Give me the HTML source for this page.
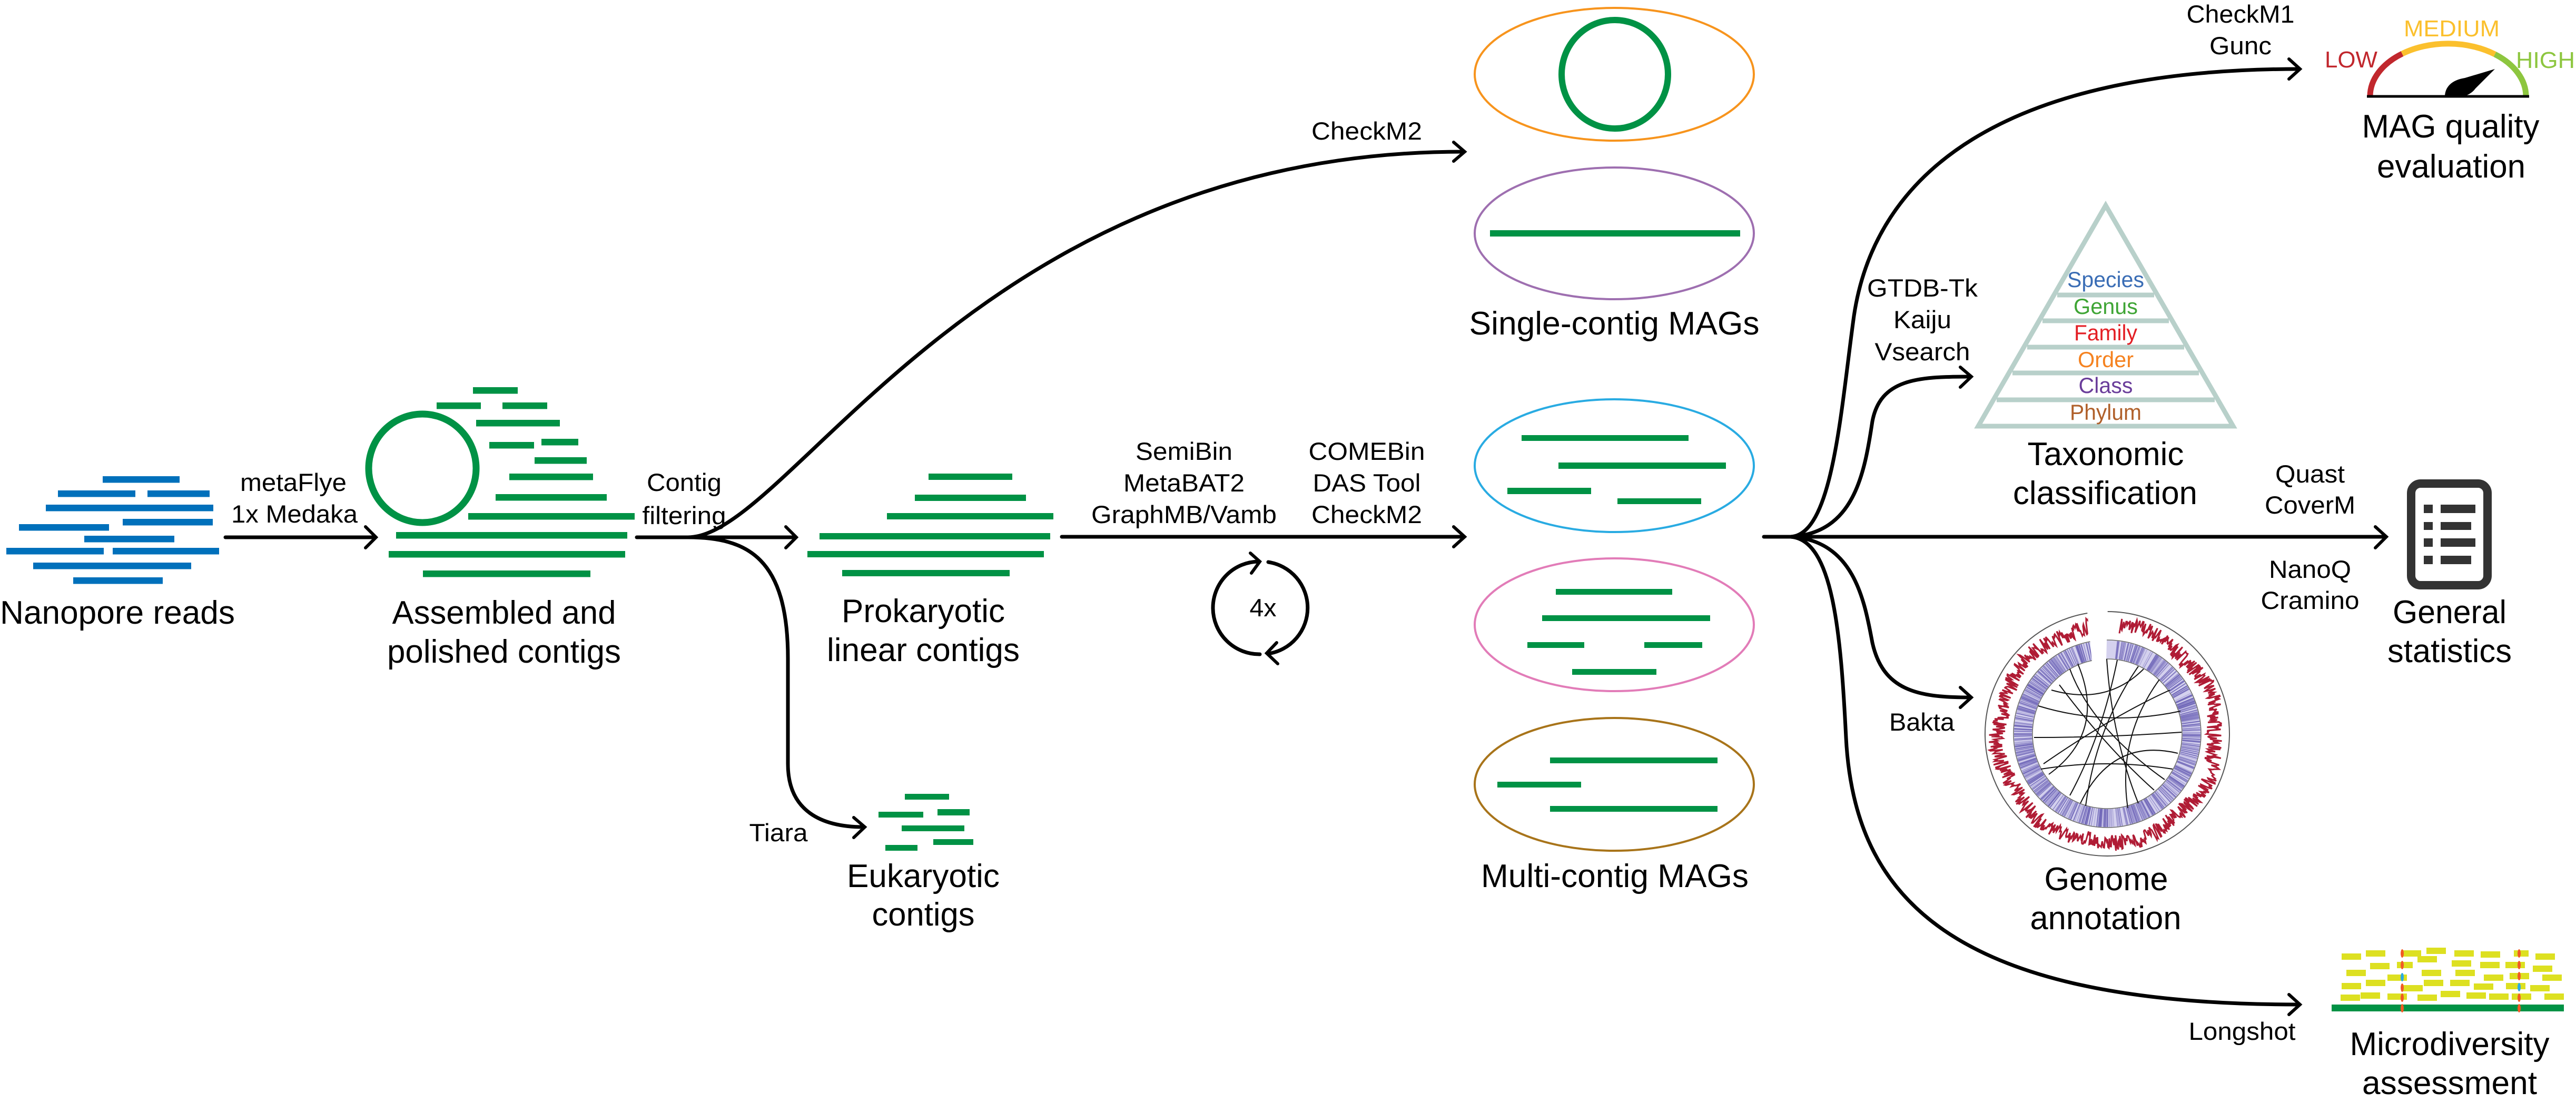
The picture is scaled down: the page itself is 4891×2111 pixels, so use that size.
<!DOCTYPE html>
<html><head><meta charset="utf-8"><style>html,body{margin:0;padding:0;background:#fff}svg{display:block}</style></head><body>
<svg id="s" xmlns="http://www.w3.org/2000/svg" width="4891" height="2111" viewBox="0 0 4891 2111" font-family="Liberation Sans, Arial, sans-serif">
<rect width="4891" height="2111" fill="#fff"/>
<defs>
<style>
.big{font-size:62px;fill:#000}
.sm{font-size:47px;fill:#000}
.tx{font-size:42px}
.ln{fill:none;stroke:#000;stroke-width:7;stroke-linecap:round}
.ah{fill:none;stroke:#000;stroke-width:6;stroke-linecap:round;stroke-linejoin:miter}
</style>
</defs>

<!-- Nanopore reads -->
<g fill="#0070bb">
<rect x="195" y="904" width="146" height="12.5"/>
<rect x="110" y="931" width="147" height="12.5"/><rect x="280" y="931" width="118" height="12.5"/>
<rect x="87" y="958" width="318" height="12.5"/>
<rect x="233" y="985" width="171" height="12.5"/><rect x="36" y="995" width="171" height="12.5"/>
<rect x="160" y="1017" width="171" height="12.5"/>
<rect x="12" y="1040" width="185" height="12.5"/><rect x="214" y="1040" width="202" height="12.5"/>
<rect x="63" y="1068" width="300" height="12.5"/>
<rect x="139" y="1096" width="170" height="12.5"/>
</g>
<text class="big" x="223" y="1184" text-anchor="middle" textLength="446" lengthAdjust="spacingAndGlyphs">Nanopore reads</text>

<line class="ln" x1="428" y1="1020" x2="712" y2="1020"/>
<polyline class="ah" points="694,1000 714,1020 694,1040"/>
<text class="sm" x="557" y="932" text-anchor="middle" textLength="202" lengthAdjust="spacingAndGlyphs">metaFlye</text>
<text class="sm" x="559" y="992" text-anchor="middle" textLength="240" lengthAdjust="spacingAndGlyphs">1x Medaka</text>

<ellipse cx="802" cy="889" rx="102" ry="103" fill="none" stroke="#009245" stroke-width="13"/>
<g fill="#009245">
<rect x="898" y="735" width="85" height="12.5"/>
<rect x="829" y="764" width="84" height="12.5"/><rect x="954" y="764" width="85" height="12.5"/>
<rect x="904" y="797" width="159" height="12.5"/>
<rect x="929" y="839" width="85" height="12.5"/><rect x="1028" y="833" width="70" height="12.5"/>
<rect x="1015" y="868" width="99" height="12.5"/>
<rect x="967" y="899" width="159" height="12.5"/>
<rect x="941" y="938" width="211" height="12.5"/>
<rect x="889" y="974" width="316" height="12.5"/>
<rect x="752" y="1010" width="439" height="12.5"/>
<rect x="738" y="1046" width="449" height="12.5"/>
<rect x="803" y="1083" width="318" height="12.5"/>
</g>
<text class="big" x="957" y="1184" text-anchor="middle" textLength="425" lengthAdjust="spacingAndGlyphs">Assembled and</text>
<text class="big" x="957" y="1258" text-anchor="middle" textLength="444" lengthAdjust="spacingAndGlyphs">polished contigs</text>

<text class="sm" x="1299" y="932" text-anchor="middle" textLength="142" lengthAdjust="spacingAndGlyphs">Contig</text>
<text class="sm" x="1299" y="995" text-anchor="middle" textLength="159" lengthAdjust="spacingAndGlyphs">filtering</text>
<line class="ln" x1="1209" y1="1020" x2="1510" y2="1020"/>
<polyline class="ah" points="1492,1000 1512,1020 1492,1040"/>
<path class="ln" d="M1306 1020 C1500 1020 1850 288 2778 288"/>
<polyline class="ah" points="2760,270 2781,288 2760,306"/>
<text class="sm" x="2595" y="265" text-anchor="middle" textLength="210" lengthAdjust="spacingAndGlyphs">CheckM2</text>
<path class="ln" d="M1306 1020 C1420 1020 1496 1060 1496 1250 L1496 1450 C1496 1540 1560 1570 1640 1570"/>
<polyline class="ah" points="1621,1552 1642,1570 1621,1590"/>
<text class="sm" x="1478" y="1597" text-anchor="middle" textLength="111" lengthAdjust="spacingAndGlyphs">Tiara</text>

<g fill="#009245">
<rect x="1763" y="899" width="159" height="12"/>
<rect x="1737" y="939" width="211" height="12"/>
<rect x="1684" y="974" width="316" height="12"/>
<rect x="1556" y="1012" width="438" height="12"/>
<rect x="1533" y="1046" width="449" height="12"/>
<rect x="1599" y="1082" width="318" height="12"/>
</g>
<text class="big" x="1753" y="1181" text-anchor="middle" textLength="310" lengthAdjust="spacingAndGlyphs">Prokaryotic</text>
<text class="big" x="1753" y="1255" text-anchor="middle" textLength="366" lengthAdjust="spacingAndGlyphs">linear contigs</text>

<g fill="#009245">
<rect x="1718" y="1507" width="84" height="11"/>
<rect x="1668" y="1541" width="85" height="11"/><rect x="1780" y="1536" width="61" height="12"/>
<rect x="1712" y="1567" width="119" height="11"/>
<rect x="1681" y="1604" width="61" height="11"/><rect x="1772" y="1593" width="76" height="11"/>
</g>
<text class="big" x="1753" y="1684" text-anchor="middle" textLength="290" lengthAdjust="spacingAndGlyphs">Eukaryotic</text>
<text class="big" x="1753" y="1757" text-anchor="middle" textLength="195" lengthAdjust="spacingAndGlyphs">contigs</text>

<line class="ln" x1="2016" y1="1019" x2="2778" y2="1019"/>
<polyline class="ah" points="2760,1000 2781,1019 2760,1038"/>
<text class="sm" x="2248" y="873" text-anchor="middle" textLength="184" lengthAdjust="spacingAndGlyphs">SemiBin</text>
<text class="sm" x="2248" y="933" text-anchor="middle" textLength="230" lengthAdjust="spacingAndGlyphs">MetaBAT2</text>
<text class="sm" x="2248" y="993" text-anchor="middle" textLength="352" lengthAdjust="spacingAndGlyphs">GraphMB/Vamb</text>
<text class="sm" x="2595" y="873" text-anchor="middle" textLength="221" lengthAdjust="spacingAndGlyphs">COMEBin</text>
<text class="sm" x="2595" y="933" text-anchor="middle" textLength="205" lengthAdjust="spacingAndGlyphs">DAS Tool</text>
<text class="sm" x="2595" y="993" text-anchor="middle" textLength="210" lengthAdjust="spacingAndGlyphs">CheckM2</text>

<path class="ln" d="M2390 1066 A88 88 0 0 0 2392 1242"/>
<path class="ln" d="M2408 1067 A88 88 0 0 1 2408 1241"/>
<polyline class="ah" points="2374,1050 2392,1066 2376,1088"/>
<polyline class="ah" points="2424,1220 2405,1240 2426,1260"/>
<text class="sm" x="2398" y="1170" text-anchor="middle" textLength="51" lengthAdjust="spacingAndGlyphs">4x</text>

<g fill="none" stroke-width="4">
<ellipse cx="3065" cy="141" rx="265" ry="126" stroke="#f7941d"/>
<ellipse cx="3065" cy="443" rx="265" ry="125" stroke="#9e6fb0"/>
<ellipse cx="3065" cy="884" rx="265" ry="126" stroke="#29abe2"/>
<ellipse cx="3065" cy="1186" rx="265" ry="126" stroke="#e27cb8"/>
<ellipse cx="3065" cy="1489" rx="265" ry="126" stroke="#a8741a"/>
</g>
<ellipse cx="3066" cy="141" rx="101" ry="103" fill="none" stroke="#009245" stroke-width="12"/>
<g fill="#009245">
<rect x="2829" y="437" width="475" height="12"/>
<rect x="2889" y="826" width="317" height="11"/>
<rect x="2959" y="878" width="318" height="12"/>
<rect x="2862" y="926" width="159" height="12"/>
<rect x="3071" y="946" width="159" height="11"/>
<rect x="2954" y="1118" width="221" height="11"/>
<rect x="2928" y="1168" width="319" height="11"/>
<rect x="2900" y="1219" width="108" height="11"/><rect x="3122" y="1219" width="110" height="11"/>
<rect x="2985" y="1270" width="160" height="11"/>
<rect x="2943" y="1438" width="318" height="11"/>
<rect x="2843" y="1484" width="159" height="11"/>
<rect x="2943" y="1530" width="318" height="11"/>
</g>
<text class="big" x="3065" y="635" text-anchor="middle" textLength="551" lengthAdjust="spacingAndGlyphs">Single-contig MAGs</text>
<text class="big" x="3066" y="1684" text-anchor="middle" textLength="508" lengthAdjust="spacingAndGlyphs">Multi-contig MAGs</text>

<line class="ln" x1="3349" y1="1019" x2="4528" y2="1019"/>
<polyline class="ah" points="4510,1000 4531,1019 4510,1040"/>
<path class="ln" d="M3400 1019 C3480 1015 3495 780 3520 600 C3560 330 3800 131 4364 131"/>
<polyline class="ah" points="4346,112 4367,131 4346,150"/>
<path class="ln" d="M3400 1019 C3520 1012 3540 900 3555 800 C3570 720 3640 715 3738 715"/>
<polyline class="ah" points="3722,697 3743,715 3722,735"/>
<path class="ln" d="M3400 1019 C3520 1026 3540 1140 3555 1220 C3575 1310 3640 1324 3738 1324"/>
<polyline class="ah" points="3722,1305 3743,1324 3722,1343"/>
<path class="ln" d="M3400 1019 C3480 1025 3495 1200 3505 1400 C3520 1700 3700 1907 4363 1907"/>
<polyline class="ah" points="4346,1888 4367,1907 4346,1926"/>

<text class="sm" x="4254" y="43" text-anchor="middle" textLength="205" lengthAdjust="spacingAndGlyphs">CheckM1</text>
<text class="sm" x="4254" y="103" text-anchor="middle" textLength="118" lengthAdjust="spacingAndGlyphs">Gunc</text>
<text class="sm" x="3650" y="563" text-anchor="middle" textLength="210" lengthAdjust="spacingAndGlyphs">GTDB-Tk</text>
<text class="sm" x="3650" y="623" text-anchor="middle" textLength="110" lengthAdjust="spacingAndGlyphs">Kaiju</text>
<text class="sm" x="3650" y="684" text-anchor="middle" textLength="181" lengthAdjust="spacingAndGlyphs">Vsearch</text>
<text class="sm" x="4386" y="916" text-anchor="middle" textLength="132" lengthAdjust="spacingAndGlyphs">Quast</text>
<text class="sm" x="4386" y="975" text-anchor="middle" textLength="172" lengthAdjust="spacingAndGlyphs">CoverM</text>
<text class="sm" x="4386" y="1097" text-anchor="middle" textLength="156" lengthAdjust="spacingAndGlyphs">NanoQ</text>
<text class="sm" x="4386" y="1156" text-anchor="middle" textLength="187" lengthAdjust="spacingAndGlyphs">Cramino</text>
<text class="sm" x="3649" y="1387" text-anchor="middle" textLength="124" lengthAdjust="spacingAndGlyphs">Bakta</text>
<text class="sm" x="4257" y="1974" text-anchor="middle" textLength="203" lengthAdjust="spacingAndGlyphs">Longshot</text>

<g fill="none" stroke-width="11">
<path d="M4500 183 A148 100 0 0 1 4561 102" stroke="#c1272d"/>
<path d="M4561 102 A148 100 0 0 1 4737 103" stroke="#fbc02d"/>
<path d="M4737 103 A148 100 0 0 1 4796 183" stroke="#8dc63f"/>
</g>
<line x1="4494" y1="183" x2="4802" y2="183" stroke="#000" stroke-width="5"/>
<path d="M4642 184 C4642 165 4655 152 4680 148 L4737 131 L4700 168 C4690 182 4670 188 4642 184 Z" fill="#000"/>
<text x="4464" y="128" font-size="44" fill="#c1272d" text-anchor="middle" textLength="100" lengthAdjust="spacingAndGlyphs">LOW</text>
<text x="4655" y="69" font-size="44" fill="#fbc02d" text-anchor="middle" textLength="182" lengthAdjust="spacingAndGlyphs">MEDIUM</text>
<text x="4833" y="129" font-size="44" fill="#8dc63f" text-anchor="middle" textLength="112" lengthAdjust="spacingAndGlyphs">HIGH</text>
<text class="big" x="4653" y="261" text-anchor="middle" textLength="337" lengthAdjust="spacingAndGlyphs">MAG quality</text>
<text class="big" x="4654" y="337" text-anchor="middle" textLength="282" lengthAdjust="spacingAndGlyphs">evaluation</text>

<g stroke="#b8d0ca" stroke-width="9" fill="none">
<polygon points="3998,390 4240,809 3756,809"/>
<line x1="3906" y1="560" x2="4090" y2="560"/>
<line x1="3878" y1="609" x2="4118" y2="609"/>
<line x1="3849" y1="659" x2="4147" y2="659"/>
<line x1="3821" y1="708" x2="4175" y2="708"/>
<line x1="3791" y1="759" x2="4205" y2="759"/>
</g>
<text class="tx" x="3998" y="545" fill="#3a6db5" text-anchor="middle" textLength="146" lengthAdjust="spacingAndGlyphs">Species</text>
<text class="tx" x="3998" y="596" fill="#3fa535" text-anchor="middle" textLength="122" lengthAdjust="spacingAndGlyphs">Genus</text>
<text class="tx" x="3998" y="646" fill="#e31e24" text-anchor="middle" textLength="120" lengthAdjust="spacingAndGlyphs">Family</text>
<text class="tx" x="3998" y="697" fill="#f58220" text-anchor="middle" textLength="106" lengthAdjust="spacingAndGlyphs">Order</text>
<text class="tx" x="3998" y="746" fill="#6a3d9a" text-anchor="middle" textLength="103" lengthAdjust="spacingAndGlyphs">Class</text>
<text class="tx" x="3998" y="797" fill="#b0602a" text-anchor="middle" textLength="136" lengthAdjust="spacingAndGlyphs">Phylum</text>
<text class="big" x="3998" y="883" text-anchor="middle" textLength="297" lengthAdjust="spacingAndGlyphs">Taxonomic</text>
<text class="big" x="3997" y="957" text-anchor="middle" textLength="350" lengthAdjust="spacingAndGlyphs">classification</text>

<rect x="4578" y="918" width="145" height="193" rx="18" fill="none" stroke="#333" stroke-width="16"/>
<g fill="#333">
<rect x="4602" y="958" width="17" height="16"/><rect x="4634" y="958" width="66" height="16"/>
<rect x="4602" y="991" width="17" height="15"/><rect x="4634" y="991" width="58" height="15"/>
<rect x="4602" y="1022" width="17" height="16"/><rect x="4634" y="1022" width="66" height="16"/>
<rect x="4602" y="1055" width="17" height="16"/><rect x="4634" y="1055" width="58" height="16"/>
</g>
<text class="big" x="4651" y="1183" text-anchor="middle" textLength="216" lengthAdjust="spacingAndGlyphs">General</text>
<text class="big" x="4651" y="1257" text-anchor="middle" textLength="236" lengthAdjust="spacingAndGlyphs">statistics</text>

<!-- circos -->
<circle cx="4001" cy="1393" r="232" fill="none" stroke="#555" stroke-width="2"/>
<circle cx="4001" cy="1393" r="178" fill="none" stroke="#666" stroke-width="1.5"/>
<circle cx="4001" cy="1393" r="142" fill="none" stroke="#666" stroke-width="1.5"/>
<g id="purp"></g>
<path id="red" fill="none" stroke="#b01c35" stroke-width="3" d=""/>
<polygon points="3985,1393 3962,1150 4002,1150 3995,1393" fill="#fff"/>
<g fill="none" stroke="#111" stroke-width="2">
<path d="M3945 1260 Q4000 1390 3890 1470"/>
<path d="M4020 1253 Q3990 1400 3930 1510"/>
<path d="M4060 1265 Q3980 1380 3960 1530"/>
<path d="M3870 1340 Q4000 1380 4140 1350"/>
<path d="M3862 1400 Q4000 1400 4142 1390"/>
<path d="M3880 1450 Q4010 1360 4120 1310"/>
<path d="M3910 1300 Q4000 1420 4090 1500"/>
<path d="M4100 1290 Q4020 1400 4040 1534"/>
<path d="M3950 1525 Q4010 1400 4135 1430"/>
<path d="M3895 1310 Q4000 1340 4070 1270"/>
<path d="M4000 1251 Q4010 1400 4060 1525"/>
<path d="M3875 1460 Q4000 1440 4125 1460"/>
<path d="M3930 1270 Q3970 1380 4110 1480"/>
</g>
<text class="big" x="3999" y="1690" text-anchor="middle" textLength="235" lengthAdjust="spacingAndGlyphs">Genome</text>
<text class="big" x="3998" y="1764" text-anchor="middle" textLength="287" lengthAdjust="spacingAndGlyphs">annotation</text>

<g fill="#dde021">
<rect x="4446" y="1810" width="37" height="12"/><rect x="4492" y="1804" width="37" height="12"/><rect x="4563" y="1804" width="34" height="12"/><rect x="4607" y="1799" width="37" height="12"/><rect x="4660" y="1804" width="37" height="12"/><rect x="4710" y="1806" width="37" height="12"/><rect x="4773" y="1804" width="28" height="12"/><rect x="4814" y="1810" width="37" height="12"/>
<rect x="4500" y="1828" width="37" height="12"/><rect x="4551" y="1826" width="30" height="12"/><rect x="4590" y="1815" width="37" height="12"/><rect x="4655" y="1823" width="37" height="12"/><rect x="4709" y="1826" width="37" height="12"/><rect x="4757" y="1826" width="37" height="12"/><rect x="4809" y="1833" width="37" height="12"/>
<rect x="4455" y="1841" width="37" height="12"/><rect x="4533" y="1850" width="37" height="12"/><rect x="4598" y="1841" width="37" height="12"/><rect x="4662" y="1841" width="37" height="12"/><rect x="4716" y="1850" width="37" height="12"/><rect x="4765" y="1847" width="37" height="12"/><rect x="4827" y="1850" width="37" height="12"/>
<rect x="4446" y="1866" width="37" height="12"/><rect x="4492" y="1860" width="37" height="12"/><rect x="4563" y="1870" width="37" height="12"/><rect x="4602" y="1860" width="37" height="12"/><rect x="4652" y="1860" width="37" height="12"/><rect x="4697" y="1867" width="37" height="12"/><rect x="4758" y="1866" width="37" height="12"/><rect x="4804" y="1870" width="37" height="12"/>
<rect x="4444" y="1888" width="37" height="12"/><rect x="4482" y="1884" width="37" height="12"/><rect x="4533" y="1886" width="37" height="12"/><rect x="4590" y="1888" width="37" height="12"/><rect x="4634" y="1881" width="37" height="12"/><rect x="4683" y="1884" width="37" height="12"/><rect x="4726" y="1886" width="37" height="12"/><rect x="4769" y="1886" width="37" height="12"/><rect x="4831" y="1886" width="37" height="12"/>
</g>
<rect x="4427" y="1907" width="441" height="13" fill="#009245"/>
<g fill="#f15a24">
<ellipse cx="4561" cy="1810" rx="3" ry="8"/><ellipse cx="4561" cy="1832" rx="3" ry="8"/><ellipse cx="4561" cy="1875" rx="3" ry="8"/><ellipse cx="4561" cy="1894" rx="3" ry="8"/><ellipse cx="4561" cy="1914" rx="3" ry="8"/>
<ellipse cx="4783" cy="1810" rx="3" ry="8"/><ellipse cx="4783" cy="1832" rx="3" ry="8"/><ellipse cx="4783" cy="1853" rx="3" ry="8"/><ellipse cx="4783" cy="1894" rx="3" ry="8"/><ellipse cx="4783" cy="1914" rx="3" ry="8"/>
</g>
<g fill="#29abe2"><ellipse cx="4561" cy="1855" rx="3" ry="8"/><ellipse cx="4783" cy="1874" rx="3" ry="8"/></g>
<text class="big" x="4651" y="2003" text-anchor="middle" textLength="379" lengthAdjust="spacingAndGlyphs">Microdiversity</text>
<text class="big" x="4651" y="2077" text-anchor="middle" textLength="332" lengthAdjust="spacingAndGlyphs">assessment</text>
</svg>
<script>
(function(){
var cx=4001,cy=1393,seed=7;
function rnd(){seed=(seed*16807)%2147483647;return seed/2147483647;}
var d="",n=900,first=true;
for(var i=0;i<=n;i++){
  var a=-Math.PI/2+0.12+ (2*Math.PI-0.2)*i/n;
  var r=207+(rnd()-0.5)*30+Math.sin(i*0.05)*4;
  var x=cx+r*Math.cos(a),y=cy+r*Math.sin(a);
  d+=(first?"M":"L")+x.toFixed(1)+" "+y.toFixed(1)+" ";first=false;
}
document.getElementById("red").setAttribute("d",d);
var g=document.getElementById("purp"),ns="http://www.w3.org/2000/svg";
var bg=document.createElementNS(ns,"circle");
bg.setAttribute("cx",cx);bg.setAttribute("cy",cy);bg.setAttribute("r",160);
bg.setAttribute("fill","none");bg.setAttribute("stroke","#d4d1ee");bg.setAttribute("stroke-width",34);
g.appendChild(bg);
for(var j=0;j<700;j++){
  var a2=-Math.PI/2+0.1+(2*Math.PI-0.18)*rnd();
  var l=document.createElementNS(ns,"line");
  l.setAttribute("x1",(cx+143*Math.cos(a2)).toFixed(1));l.setAttribute("y1",(cy+143*Math.sin(a2)).toFixed(1));
  l.setAttribute("x2",(cx+177*Math.cos(a2)).toFixed(1));l.setAttribute("y2",(cy+177*Math.sin(a2)).toFixed(1));
  l.setAttribute("stroke","#6f66b8");l.setAttribute("stroke-width","1.5");l.setAttribute("opacity",(0.3+0.6*rnd()).toFixed(2));
  g.appendChild(l);
}
})();
</script>
</body></html>
